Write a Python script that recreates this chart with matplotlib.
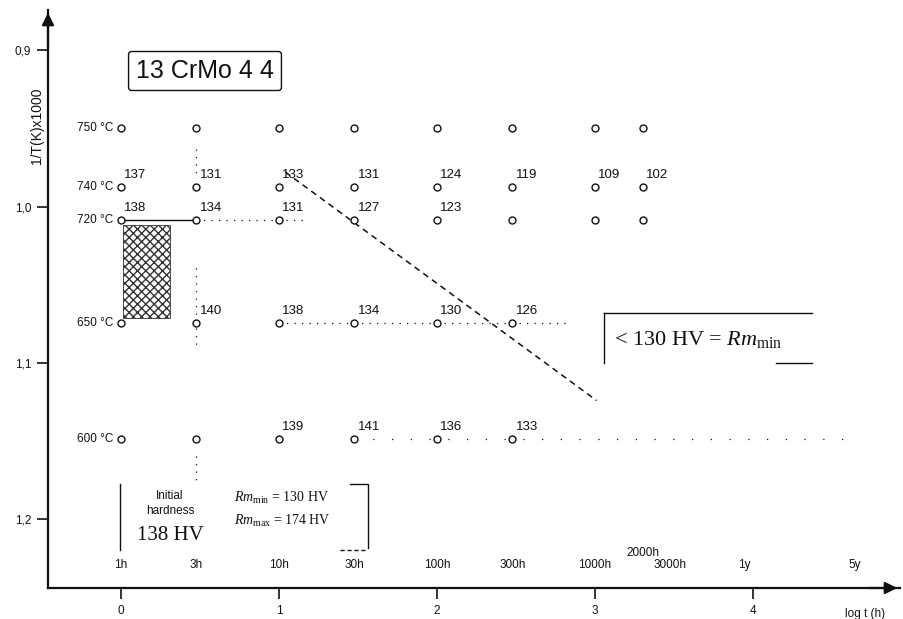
import matplotlib

matplotlib.use("Agg")

import matplotlib.pyplot as plt
import numpy as np
from matplotlib.patches import Rectangle

W, H = 904, 619
SANS = "Liberation Sans"
SERIF = "Liberation Serif"
INK = "#111111"

plt.rcParams["mathtext.fontset"] = "custom"
plt.rcParams["mathtext.rm"] = SERIF
plt.rcParams["mathtext.it"] = SERIF + ":italic"

# annealing times (columns) and temperature rows
HOURS = [1, 3, 10, 30, 100, 300, 1000, 2000]
TEMPS = ["750 °C", "740 °C", "720 °C", "650 °C", "600 °C"]
ROW_Y = [0.950, 0.9875, 1.0086, 1.0744, 1.1486]   # 1/T(K) x 1000 as drawn

# hardness HV per row, None = circle without a value
HV_750 = [None] * 8
HV_740 = [137, 131, 133, 131, 124, 119, 109, 102]
HV_720 = [138, 134, 131, 127, 123, None, None, None]
HV_650 = [None, 140, 138, 134, 130, 126]
HV_600 = [None, None, 139, 141, 136, 133]
ROWS = [HV_750, HV_740, HV_720, HV_650, HV_600]

# dashed limit line (< 130 HV)
LIMIT_LOGT = [1.04, 3.01]
LIMIT_Y = [0.978, 1.124]

# time labels along the axis
TIME_LABELS = ["1h", "3h", "10h", "30h", "100h", "300h", "1000h", "2000h", "3000h", "1y", "5y"]
TIME_HOURS = [1, 3, 10, 30, 100, 300, 1000, 2000, 3000, 8760, 43800]

Y_TICKS = [0.9, 1.0, 1.1, 1.2]
X_TICKS = [0, 1, 2, 3, 4]


def fx(px):
    return px / W


def fy(py):
    return 1 - py / H


fig = plt.figure(figsize=(W / 100, H / 100), dpi=100, facecolor="white")
ax = fig.add_axes([fx(48), fy(588), fx(900) - fx(48), fy(10) - fy(588)])
ax.set_xlim(-0.462, 4.93)
ax.set_ylim(1.2438, 0.8744)
ax.set_facecolor("white")

for spine in ("top", "right"):
    ax.spines[spine].set_visible(False)
for spine in ("left", "bottom"):
    ax.spines[spine].set_linewidth(1.6)
    ax.spines[spine].set_color(INK)

ax.set_yticks(Y_TICKS)
ax.set_yticklabels([f"{v:.1f}".replace(".", ",") for v in Y_TICKS])
ax.set_xticks(X_TICKS)
ax.set_xticklabels([str(v) for v in X_TICKS])
ax.tick_params(direction="out", length=8, width=1.2, colors=INK, labelsize=8.5, pad=4)
for lab in ax.get_xticklabels() + ax.get_yticklabels():
    lab.set_fontfamily(SANS)

# arrow heads on both axes
ax.annotate("", xy=(0, 1.0), xytext=(0, 0.93), xycoords="axes fraction",
            arrowprops=dict(arrowstyle="-|>", color=INK, lw=1.6, mutation_scale=18))
ax.annotate("", xy=(1.0, 0), xytext=(0.96, 0), xycoords="axes fraction",
            arrowprops=dict(arrowstyle="-|>", color=INK, lw=1.6, mutation_scale=18))

ax.text(-0.013, 0.80, "1/T(K)x1000", transform=ax.transAxes, rotation=90,
        ha="center", va="center", fontsize=10, family=SANS, color=INK)
ax.text(0.935, -0.035, "log t (h)", transform=ax.transAxes, ha="left",
        va="top", fontsize=8.5, family=SANS, color=INK)

logt = np.log10(HOURS)

# faint dotted guides left over from the original drawing
dots = dict(color=INK, lw=0.9, linestyle=(0, (1, 5)))
ax.plot([logt[1]] * 2, [ROW_Y[0] + 0.013, ROW_Y[1] - 0.006], **dots)
ax.plot([logt[1]] * 2, [ROW_Y[3] - 0.035, ROW_Y[3] + 0.015], **dots)
ax.plot([logt[1]] * 2, [ROW_Y[4] + 0.011, ROW_Y[4] + 0.027], **dots)
ax.plot([logt[2], logt[5] + 0.35], [ROW_Y[3]] * 2, **dots)
ax.plot([logt[3], np.log10(43800)], [ROW_Y[4]] * 2, color=INK, lw=0.9,
        linestyle=(0, (1, 14)))
ax.plot([logt[1], logt[2] + 0.15], [ROW_Y[2]] * 2, **dots)

# solid link between the first two 720 °C samples
ax.plot(logt[:2], [ROW_Y[2]] * 2, color=INK, lw=1.0)

# microstructure inset (rendered as a dense hatch)
ax.add_patch(Rectangle((0.013, 1.012), 0.30, 0.059, facecolor="white",
                       edgecolor="#333333", hatch="xxxx", lw=0.6, zorder=2))

for temp, y, values in zip(TEMPS, ROW_Y, ROWS):
    n = len(values)
    ax.plot(logt[:n], [y] * n, linestyle="none", marker="o", ms=5,
            mfc="white", mec=INK, mew=1.0, zorder=4)
    ax.text(logt[0] - 0.05, y, temp, ha="right", va="center", fontsize=8.5,
            family=SANS, color=INK)
    for xv, hv in zip(logt[:n], values):
        if hv is None:
            continue
        ax.text(xv + 0.02, y - 0.004, str(hv), ha="left", va="bottom",
                fontsize=9.5, family=SANS, color=INK, zorder=5)

ax.plot(LIMIT_LOGT, LIMIT_Y, color=INK, lw=1.1, linestyle=(0, (4, 3)))

for lab, hrs in zip(TIME_LABELS, TIME_HOURS):
    yv = 1.2214 if lab == "2000h" else 1.229
    ax.text(np.log10(hrs), yv, lab, ha="center", va="center", fontsize=8.5,
            family=SANS, color=INK)

# title box
fig.text(fx(205), fy(71), "13 CrMo 4 4", ha="center", va="center",
         fontsize=18, family=SANS, color=INK,
         bbox=dict(boxstyle="round,pad=0.3,rounding_size=0.12", fc="white",
                   ec=INK, lw=1.0))

# limit annotation
fig.text(fx(614), fy(340), r"< 130 HV = $Rm_{\mathrm{min}}$", ha="left",
         va="center", fontsize=16, family=SERIF, color=INK)
fig.add_artist(plt.Line2D([fx(604), fx(812)], [fy(313), fy(313)], color=INK, lw=1.0))
fig.add_artist(plt.Line2D([fx(604), fx(604)], [fy(313), fy(363)], color=INK, lw=1.0))
fig.add_artist(plt.Line2D([fx(776), fx(812)], [fy(363), fy(363)], color=INK, lw=1.0))

# initial hardness block
fig.add_artist(plt.Line2D([fx(120), fx(120)], [fy(484), fy(550)], color=INK, lw=1.0))
fig.text(fx(170), fy(496), "Initial", ha="center", va="center", fontsize=8.5,
         family=SANS, color=INK)
fig.text(fx(170), fy(511), "hardness", ha="center", va="center", fontsize=8.5,
         family=SANS, color=INK)
fig.text(fx(170), fy(536), "138 HV", ha="center", va="center", fontsize=15,
         family=SERIF, color=INK)
fig.text(fx(234), fy(498), r"$Rm_{\mathrm{min}}$ = 130 HV", ha="left",
         va="center", fontsize=10, family=SERIF, color=INK)
fig.text(fx(234), fy(521), r"$Rm_{\mathrm{max}}$ = 174 HV", ha="left",
         va="center", fontsize=10, family=SERIF, color=INK)
fig.add_artist(plt.Line2D([fx(350), fx(368), fx(368)], [fy(484), fy(484), fy(548)],
                          color=INK, lw=1.0))
fig.add_artist(plt.Line2D([fx(340), fx(366)], [fy(550), fy(550)], color=INK, lw=1.0,
                          linestyle=(0, (3, 2))))

fig.savefig("out.png", dpi=100, facecolor="white")
